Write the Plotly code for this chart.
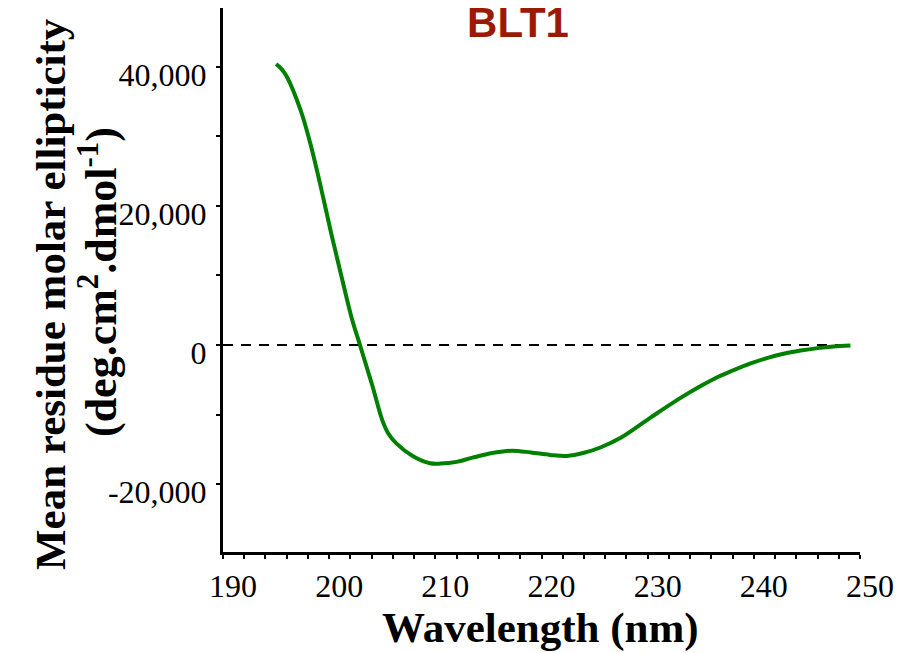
import plotly.graph_objects as go

# CD spectrum of BLT1
wavelength = [195.0, 195.5, 196.0, 197.3, 198.2, 199.2, 200.2, 201.2, 202.1, 202.9,
              203.5, 204.1, 205.0, 205.6, 206.3, 207.9, 209.5, 210.5, 212.0, 213.5,
              215.5, 217.2, 219.0, 220.8, 222.4, 224.0, 225.6, 227.5, 230.3, 233.1,
              235.0, 236.6, 238.1, 239.7, 241.3, 242.8, 244.4, 246.0, 247.5, 249.1]
ellipticity = [40400, 39700, 38600, 33800, 29100, 22800, 16000, 9600, 4000, 0,
               -3000, -6000, -10800, -12800, -14100, -16000, -17000, -17050, -16800, -16200,
               -15500, -15200, -15450, -15800, -15950, -15500, -14700, -13300, -10400, -7600,
               -5900, -4600, -3600, -2650, -1850, -1250, -800, -450, -210, -70]

zero_x = [190, 249.1]
zero_y = [0, 0]

x_tickvals = [190, 200, 210, 220, 230, 240, 250]
x_ticktext = ["190", "200", "210", "220", "230", "240", "250"]
y_tickvals = [-20000, 0, 20000, 40000]
y_ticktext = ["-20,000", "0", "20,000", "40,000"]

serif = "Liberation Serif, Times New Roman, serif"

fig = go.Figure()
fig.add_trace(go.Scatter(x=zero_x, y=zero_y, mode="lines",
                         line=dict(color="black", width=2, dash="10px,8px"),
                         hoverinfo="skip", showlegend=False))
fig.add_trace(go.Scatter(x=wavelength, y=ellipticity, mode="lines",
                         line=dict(color="#008000", width=4, shape="spline", smoothing=1.0),
                         showlegend=False))

fig.update_layout(
    width=905, height=653,
    margin=dict(l=223, r=45, t=8, b=101),
    plot_bgcolor="white", paper_bgcolor="white",
    title=dict(text="<b>BLT1</b>", x=518/905, xanchor="center", y=1-22/653, yanchor="middle",
               font=dict(family="Liberation Sans, Arial, sans-serif", size=42, color="#9a1a05")),
    xaxis=dict(range=[190, 250], showline=True, linewidth=3, linecolor="black",
               showgrid=False, zeroline=False, ticks="outside", ticklen=4, tickwidth=1.5,
               tickcolor="black", tickvals=x_tickvals, ticktext=x_ticktext,
               tickfont=dict(family=serif, size=32, color="black"),
               ticklabelshift=10, ticklabelstandoff=0,
               minor=dict(dtick=2, tick0=190, ticks="outside", ticklen=4, tickwidth=1.5, tickcolor="black")),
    yaxis=dict(range=[-29760, 48450], showline=True, linewidth=3, linecolor="black",
               showgrid=False, zeroline=False, ticks="outside", ticklen=4, tickwidth=1.5,
               tickcolor="black", tickvals=y_tickvals, ticktext=y_ticktext,
               tickfont=dict(family=serif, size=32, color="black"),
               ticklabelshift=8, ticklabelstandoff=3,
               minor=dict(dtick=10000, tick0=0, ticks="outside", ticklen=4, tickwidth=1.5, tickcolor="black")),
    annotations=[
        dict(text="<b>Wavelength (nm)</b>", xref="paper", yref="paper",
             x=(540-223)/637, y=(552-628)/544, xanchor="center", yanchor="middle",
             showarrow=False, font=dict(family=serif, size=43, color="black")),
        dict(text="<b>Mean residue molar ellipticity</b>", xref="paper", yref="paper",
             x=(50-223)/637, y=(552-294)/544, xanchor="center", yanchor="middle",
             textangle=-90, showarrow=False, font=dict(family=serif, size=43, color="black")),
        dict(text="<b>(deg.cm<sup>2</sup>.dmol<sup>-1</sup>)</b>", xref="paper", yref="paper",
             x=(98-223)/637, y=(552-282)/544, xanchor="center", yanchor="middle",
             textangle=-90, showarrow=False, font=dict(family=serif, size=44, color="black")),
    ],
)

fig.write_html("out.html")
